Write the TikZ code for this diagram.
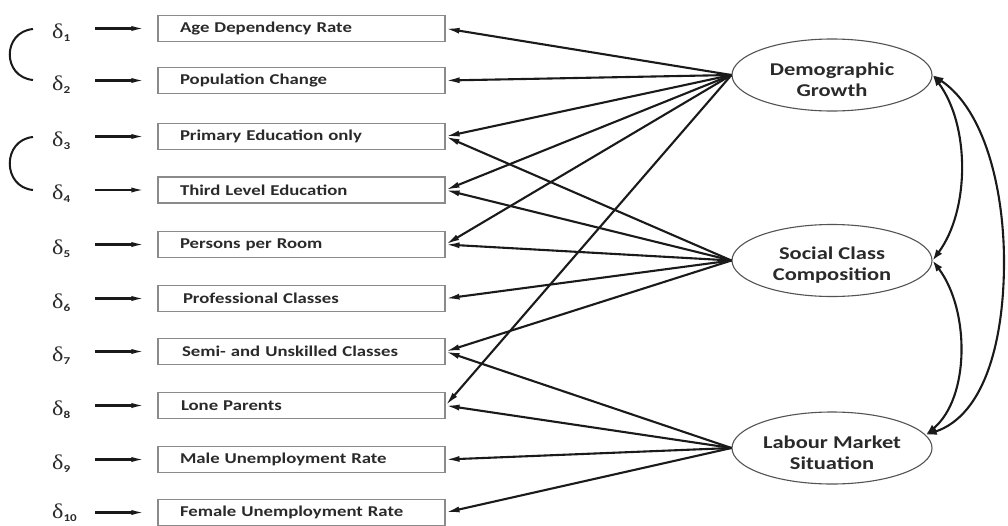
\documentclass[tikz,border=0pt]{standalone}
\usepackage{fontspec}
\setmainfont{Carlito}[FakeStretch=1.25]
\newfontfamily\dfont{Liberation Serif}[FakeStretch=1.15]
\usetikzlibrary{arrows.meta,shapes.geometric}
\definecolor{txt}{HTML}{2A2A2A}
\definecolor{ln}{HTML}{1A1A1A}
\definecolor{bord}{HTML}{8A8A8A}
\newcommand{\dlt}[1]{{\dfont\fontsize{21}{21}\selectfont δ}\raisebox{-3pt}{\bfseries\fontsize{10.5}{10.5}\selectfont #1}}
\tikzset{
  vbox/.style={draw=bord, line width=1.1pt, rectangle, inner xsep=22pt, inner ysep=0pt,
    text width=243pt, align=left, minimum height=26pt, text=txt,
    font=\bfseries\fontsize{15}{17}\selectfont},
  latent/.style={draw=ln!75, line width=1.1pt, ellipse, minimum width=200pt, minimum height=72pt,
    inner sep=0pt},
  lattext/.style={align=center, text=txt, inner sep=0pt, font=\bfseries\fontsize{18}{21}\selectfont},
  dnode/.style={anchor=base west, inner sep=0pt, text width=30pt, align=left, text=txt},
  darr/.style={draw=ln, line width=2.2pt, -{Latex[length=15pt,width=5pt]}, shorten <=13pt, shorten >=11pt},
  edge/.style={draw=ln, line width=2.1pt, -{Latex[length=14pt,width=6pt]}},
  carr/.style={draw=ln, line width=2.1pt, {Latex[length=11pt,width=7.5pt]}-{Latex[length=11pt,width=7.5pt]}},
  brk/.style={draw=ln, line width=2pt}
}
\begin{document}
\begin{tikzpicture}[x=1pt,y=-1pt]
\useasboundingbox (0,0) rectangle (1008,525);
\fill[white] (0,0) rectangle (1008,525);
% boxes
\node[vbox] (b1) at (301.5,28.5) {Age Dependency Rate};
\node[vbox] (b2) at (301.5,80.5) {Population Change};
\node[vbox] (b3) at (301.5,136.5) {Primary Education only};
\node[vbox] (b4) at (301.5,190) {Third Level Education};
\node[vbox] (b5) at (301.5,244.5) {Persons per Room};
\node[vbox] (b6) at (301.5,298.5) {\hspace{3pt}Professional Classes};
\node[vbox] (b7) at (301.5,351.5) {\hspace{2pt}Semi- and Unskilled Classes};
\node[vbox] (b8) at (301.5,405.5) {\hspace{1pt}Lone Parents};
\node[vbox] (b9) at (301.5,459.5) {Male Unemployment Rate};
\node[vbox] (b10) at (301.5,512.5) {Female Unemployment Rate};
% deltas
\node[dnode] (d1) at (52,38) {\dlt{1}};
\node[dnode] (d2) at (52,90) {\dlt{2}};
\node[dnode] (d3) at (52,146) {\dlt{3}};
\node[dnode] (d4) at (52,199.5) {\dlt{4}};
\node[dnode] (d5) at (52,254) {\dlt{5}};
\node[dnode] (d6) at (52,308) {\dlt{6}};
\node[dnode] (d7) at (52,361) {\dlt{7}};
\node[dnode] (d8) at (52,415) {\dlt{8}};
\node[dnode] (d9) at (52,469) {\dlt{9}};
\node[dnode] (d10) at (52,518) {\dlt{10}};
\foreach \i in {1,...,10} {\draw[darr] (d\i.east |- b\i.west) -- (b\i.west);}
% correlated errors
\coordinate (c1) at (33,29);
\coordinate (c2) at (33,80);
\coordinate (c3) at (33,137);
\coordinate (c4) at (33,190);
\draw[brk] (c1) .. controls (2,32) and (2,77) .. (c2);
\draw[brk] (c3) .. controls (2,140) and (2,187) .. (c4);
% latent factors
\node[latent] (demo) at (832,75) {};
\node[latent] (soc) at (832,260.5) {};
\node[latent] (lab) at (832,448) {};
\node[lattext] (demot) at ([yshift=-4.5pt]demo.center) {Demographic\\Growth};
\node[lattext] (soct) at ([yshift=-4.5pt]soc.center) {Social Class\\Composition};
\node[lattext] (labt) at ([yshift=-5pt]lab.center) {Labour Market\\Situation};
% loadings
\foreach \b in {b1,b2,b3,b4,b5,b8} {\draw[edge] (demo.west) -- (\b.east);}
\foreach \b in {b3,b4,b5,b6,b7} {\draw[edge] (soc.west) -- (\b.east);}
\foreach \b in {b7,b8,b9,b10} {\draw[edge] (lab.west) -- (\b.east);}
% factor covariances
\draw[carr] (demo.east) .. controls (970,125) and (970,210) .. (soc.east);
\draw[carr] (soc.east) .. controls (970,310) and (970,398) .. (lab.8);
\coordinate (peak) at (1004,262);
\draw[carr] (demo.east) .. controls (985,110) and (1004,190) .. (peak) .. controls (1004,340) and (985,415) .. (lab.8);
\end{tikzpicture}
\end{document}
